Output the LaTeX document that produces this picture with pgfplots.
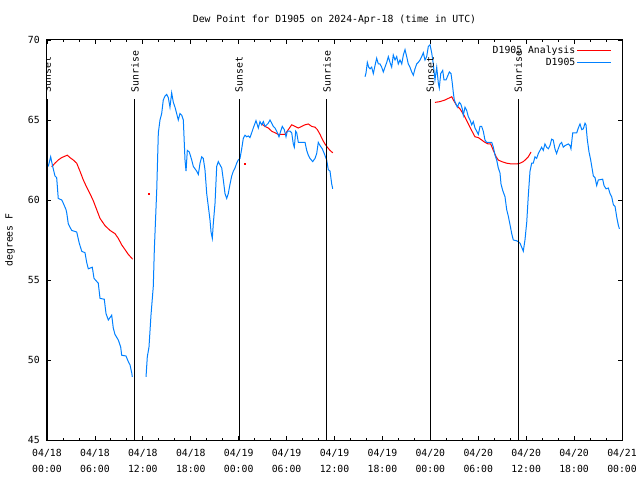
\documentclass[border=0pt]{standalone}
\usepackage{pgfplots}
\pgfplotsset{compat=1.18}
\usepackage{fontspec}
\setmainfont{DejaVu Sans Mono}
\definecolor{dpblue}{RGB}{0,128,255}
\begin{document}
\begin{tikzpicture}[font=\fontsize{9.8bp}{11bp}\selectfont]
\begin{axis}[
 at={(0,0)}, anchor=south west,
 scale only axis, width=575bp, height=400bp,
 xmin=0, xmax=72, ymin=45, ymax=70,
 xtick={0,6,...,72},
 xticklabels={04/18\\00:00, 04/18\\06:00, 04/18\\12:00, 04/18\\18:00, 04/19\\00:00, 04/19\\06:00, 04/19\\12:00, 04/19\\18:00, 04/20\\00:00, 04/20\\06:00, 04/20\\12:00, 04/20\\18:00, 04/21\\00:00},
 minor x tick num=2,
 ytick={45,50,...,70},
 tick align=inside, tick pos=both,
 major tick length=4.5bp, minor tick length=2.5bp,
 axis line style={line width=1bp},
 every tick/.append style={black, line width=0.8bp},
 /pgf/number format/assume math mode=true,
 xticklabel style={align=center, inner sep=0pt, yshift=-9bp, font=\fontsize{9.8bp}{16bp}\selectfont},
 yticklabel style={inner sep=0pt, xshift=-7bp},
 title={Dew Point for D1905 on 2024-Apr-18 (time in UTC)},
 title style={at={(axis description cs:0.5,1.03)}, anchor=base, inner sep=0pt},
 ylabel={degrees F},
 ylabel style={at={(axis description cs:-0.0643,0.5)}, anchor=center, inner sep=0pt},
 legend style={draw=none, fill=none, at={(axis description cs:0.9826,0.988)}, anchor=north east, inner sep=0pt, row sep=0bp, nodes={inner sep=1.5bp}},
 legend cell align=right, legend plot pos=right,
 legend image code/.code={\path (0bp,0bp) -- (5bp,0bp); \draw[#1, line width=1bp] (5bp,0bp) -- (34bp,0bp);},
 unbounded coords=jump,
]
\addplot[red, line width=1bp] coordinates {
(0.59,62.08)(1.00,62.3)(1.41,62.5)(1.84,62.65)(2.54,62.8)(2.88,62.65)(3.29,62.5)(3.72,62.3)(4.13,61.8)(4.55,61.25)(4.97,60.8)(5.38,60.4)(5.80,59.95)(6.22,59.4)(6.64,58.85)(7.26,58.4)(7.89,58.1)(8.51,57.9)(8.93,57.6)(9.35,57.2)(9.77,56.9)(10.18,56.6)(10.73,56.3)
(11.5,nan)
(26.88,64.75)(27.30,64.6)(27.71,64.5)(28.14,64.3)(28.55,64.2)(28.96,64.1)(29.80,64.1)(30.22,64.4)(30.64,64.7)(31.06,64.6)(31.47,64.5)(31.89,64.6)(32.31,64.7)(32.72,64.75)(33.15,64.6)(33.56,64.55)(33.85,64.4)(34.19,64.1)(34.52,63.75)(34.81,63.5)(35.10,63.3)(35.44,63.1)(35.78,62.95)
(40,nan)
(48.58,66.1)(49.21,66.15)(49.84,66.25)(50.25,66.35)(50.68,66.45)(50.88,66.25)(51.30,65.9)(51.71,65.7)(52.21,65.3)(52.72,64.8)(53.22,64.3)(53.59,63.95)(54.01,63.9)(54.43,63.75)(54.84,63.6)(55.26,63.5)(55.56,63.5)(55.89,63.1)(56.24,62.7)(56.51,62.5)(56.93,62.4)(57.56,62.3)(58.19,62.25)(58.81,62.25)(59.23,62.3)(59.64,62.4)(59.98,62.55)(60.27,62.7)(60.61,63.0)
};
\addlegendentry{D1905 Analysis}
\addplot[red, only marks, mark=square*, mark size=0.5bp, forget plot] coordinates {(12.68,60.4)(24.70,62.3)};
\addplot[dpblue, line width=1bp] coordinates {
(0.16,62.1)(0.46,62.7)(0.71,62.1)(1.0,61.5)(1.21,61.4)(1.41,60.1)(1.84,60.0)(2.04,59.8)(2.38,59.4)(2.47,59.2)(2.67,58.5)(3.09,58.1)(3.72,58.0)(4.04,57.3)(4.35,56.8)(4.76,56.7)(4.97,56.1)(5.17,55.7)(5.67,55.8)(5.89,55.1)(6.42,54.8)(6.64,53.85)(7.17,53.8)(7.39,52.9)(7.68,52.5)(8.10,52.8)(8.30,52.0)(8.51,51.6)(8.93,51.25)(9.23,50.8)(9.35,50.3)(9.89,50.25)(10.18,49.9)(10.39,49.7)(10.61,49.2)(10.68,48.95)
(11.5,nan)
(12.40,48.95)(12.56,50.2)(12.77,50.8)(13.02,52.8)(13.31,54.6)(13.44,56.9)(13.61,59.0)(13.74,60.6)(13.94,64.2)(14.15,65.0)(14.36,65.4)(14.56,66.25)(14.78,66.5)(14.99,66.6)(15.19,66.4)(15.40,65.8)(15.61,66.7)(15.82,66.1)(16.03,65.8)(16.24,65.4)(16.44,65.0)(16.65,65.4)(16.87,65.3)(17.07,65.0)(17.28,62.5)(17.41,61.8)(17.57,63.1)(17.82,63.0)(18.12,62.5)(18.32,62.1)(18.75,61.8)(18.95,61.6)(19.16,62.3)(19.37,62.7)(19.57,62.6)(19.78,61.9)(20.00,60.4)(20.20,59.6)(20.41,58.75)(20.54,58.0)(20.70,57.6)(20.82,58.5)(21.04,59.8)(21.25,62.1)(21.45,62.4)(21.66,62.2)(21.88,62.0)(22.08,61.25)(22.29,60.4)(22.50,60.1)(22.70,60.4)(22.92,61.0)(23.13,61.5)(23.33,61.8)(23.54,62.0)(23.75,62.3)(23.95,62.5)(24.17,62.6)(24.38,63.2)(24.58,63.85)(24.79,64.05)(25.01,63.95)(25.21,64.0)(25.42,63.9)(25.63,64.2)(25.83,64.5)(26.17,64.96)(26.46,64.5)(26.67,64.9)(26.88,64.7)(27.09,64.9)(27.30,64.6)(27.51,64.7)(27.71,64.8)(27.92,65.0)(28.14,64.8)(28.34,64.6)(28.55,64.5)(28.76,64.3)(29.05,63.95)(29.26,64.3)(29.46,64.6)(29.71,64.4)(29.93,63.95)(30.09,64.3)(30.43,64.3)(30.64,64.2)(30.84,63.5)(30.97,63.3)(31.14,64.3)(31.27,64.2)(31.47,63.6)(32.09,63.6)(32.31,63.6)(32.52,63.1)(32.72,62.8)(32.93,62.6)(33.27,62.4)(33.56,62.6)(33.77,62.9)(33.97,63.6)(34.19,63.4)(34.47,63.2)(34.72,62.9)(35.02,62.5)(35.22,61.9)(35.44,61.8)(35.65,61.0)(35.78,60.7)
(37,nan)
(39.82,67.7)(39.95,67.95)(40.11,68.6)(40.28,68.3)(40.45,68.2)(40.66,68.3)(40.86,67.9)(41.07,68.4)(41.28,68.86)(41.49,68.5)(41.70,68.5)(41.91,68.3)(42.11,68.0)(42.32,68.3)(42.54,68.6)(42.74,68.96)(42.95,68.6)(43.16,68.3)(43.36,69.06)(43.58,68.75)(43.79,68.96)(43.99,68.5)(44.20,68.75)(44.42,68.5)(44.62,69.06)(44.83,69.4)(45.04,68.96)(45.24,68.5)(45.45,68.3)(45.67,68.0)(45.87,67.8)(46.08,68.2)(46.29,68.5)(46.49,68.6)(46.71,68.75)(46.92,68.96)(47.12,69.2)(47.33,68.75)(47.54,68.96)(47.75,69.6)(47.96,69.7)(48.17,69.2)(48.37,68.5)(48.58,67.5)(48.80,68.3)(49.00,67.3)(49.12,67.0)(49.30,67.9)(49.55,68.1)(49.71,67.5)(49.96,67.5)(50.13,67.7)(50.38,68.0)(50.59,67.9)(50.75,67.3)(50.88,66.7)(51.00,66.25)(51.21,66.0)(51.38,65.8)(51.63,66.1)(51.81,66.0)(52.00,65.7)(52.13,65.3)(52.34,65.8)(52.55,65.6)(52.76,65.2)(52.97,65.0)(53.18,64.7)(53.38,64.9)(53.59,64.5)(53.81,64.3)(54.01,64.1)(54.22,64.6)(54.43,64.6)(54.63,64.3)(54.84,63.75)(55.06,63.6)(55.69,63.6)(55.89,63.3)(56.10,62.8)(56.31,62.5)(56.51,62.0)(56.72,61.7)(56.85,61.0)(57.06,60.6)(57.35,60.2)(57.56,59.4)(57.76,59.0)(57.98,58.45)(58.19,57.9)(58.39,57.5)(58.81,57.45)(59.01,57.4)(59.23,57.3)(59.44,57.05)(59.64,56.8)(59.85,57.5)(60.07,58.6)(60.27,60.3)(60.48,61.8)(60.69,62.3)(60.89,62.3)(61.10,62.7)(61.31,62.6)(61.52,62.9)(61.73,63.1)(61.94,63.3)(62.14,63.1)(62.35,63.5)(62.56,63.3)(62.77,63.2)(62.98,63.4)(63.19,63.8)(63.39,63.75)(63.60,63.2)(63.81,62.9)(64.01,63.2)(64.24,63.5)(64.44,63.6)(64.65,63.3)(64.86,63.4)(65.28,63.5)(65.49,63.4)(65.61,63.2)(65.83,64.2)(66.33,64.2)(66.53,64.5)(66.74,64.75)(66.96,64.4)(67.16,64.45)(67.37,64.8)(67.49,64.7)(67.66,63.75)(67.87,63.0)(68.08,62.5)(68.28,61.9)(68.41,61.5)(68.62,61.4)(68.83,60.9)(69.03,61.25)(69.58,61.3)(69.75,60.9)(70.00,60.7)(70.29,60.75)(70.50,60.4)(70.71,60.2)(70.92,59.7)(71.13,59.6)(71.35,58.9)(71.55,58.4)(71.68,58.2)
};
\addlegendentry{D1905}
\foreach \h/\t in {0.05/Sunset, 11.0/Sunrise, 24.05/Sunset, 35.05/Sunrise, 48.0/Sunset, 59.0/Sunrise}{
  \edef\temp{\noexpand\draw[black, line width=1bp] (axis cs:\h,45) -- (axis cs:\h,66.31);
  \noexpand\node[rotate=90, anchor=west, inner sep=0pt] at (axis cs:\h,66.72) {\t};}
  \temp
}
\end{axis}
\path (-47bp,-40bp) rectangle (593bp,440bp);
\end{tikzpicture}
\end{document}
